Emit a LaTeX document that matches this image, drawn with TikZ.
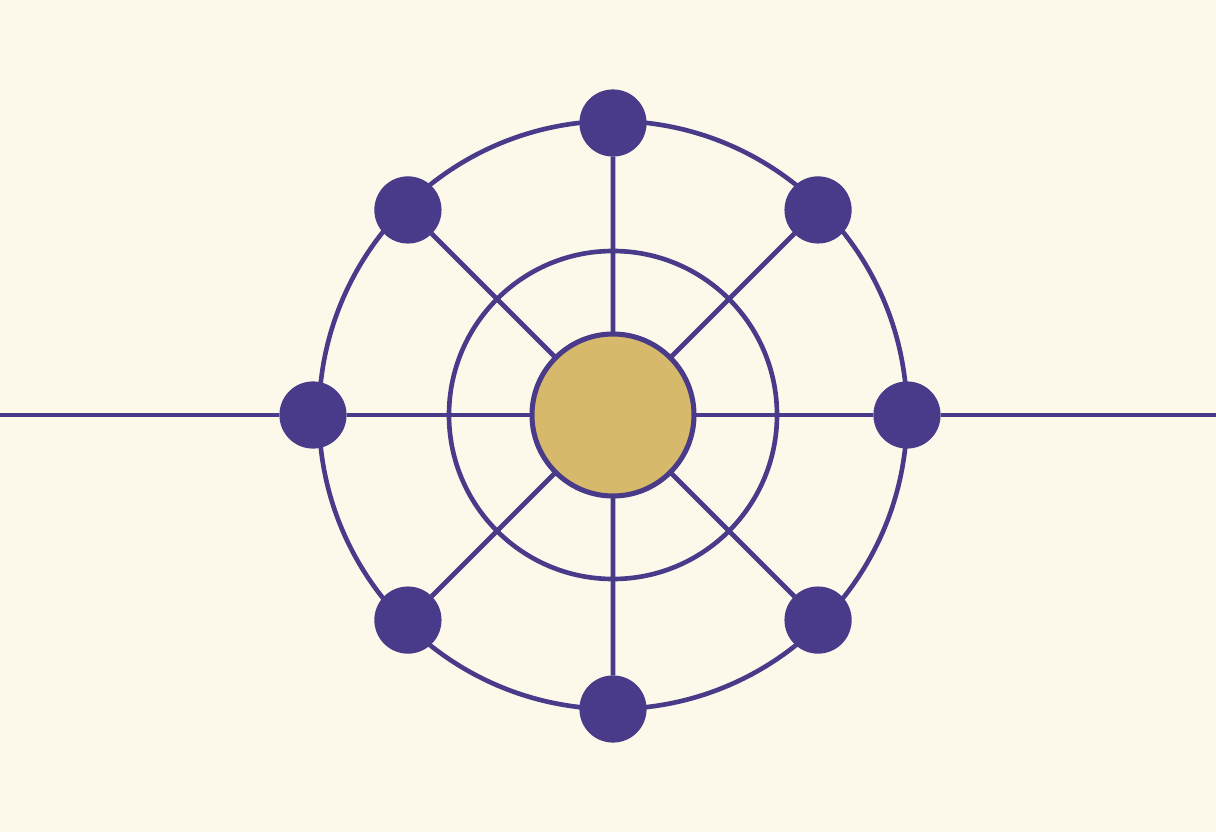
\documentclass[tikz,border=0pt]{standalone}
\usetikzlibrary{calc}
\definecolor{ink}{HTML}{4A3A8A}
\definecolor{gold}{HTML}{D6B96A}
\definecolor{paper}{HTML}{FDF9EA}
\tikzset{dot/.style={circle,fill=ink,inner sep=0pt,outer sep=0pt,minimum size=1.68cm},
  hubnode/.style={circle,draw=ink,fill=gold,line width=3.6pt,inner sep=0pt,outer sep=0pt,minimum size=4.05cm}}
\begin{document}
\begin{tikzpicture}[line width=3.3pt, draw=ink]
\fill[paper] (-15.325,-10.425) rectangle (15.075,10.375);
\useasboundingbox (-15.325,-10.425) rectangle (15.075,10.375);
\coordinate (west) at (-15.325,0);
\coordinate (east) at (15.075,0);
\draw[ink] (0,0) circle (7.35) (0,0) circle (4.1);
\node (hub) at (0,0) [hubnode] {};
\node (e) at (0:7.35) [dot] {};
\node (ne) at (45:7.25) [dot] {};
\node (n) at (90:7.3) [dot] {};
\node (nw) at (135:7.25) [dot] {};
\node (w) at (180:7.5) [dot] {};
\node (sw) at (225:7.25) [dot] {};
\node (s) at (270:7.35) [dot] {};
\node (se) at (315:7.25) [dot] {};
\draw[ink] (west)--(w) (w)--(hub) (hub)--(e) (e)--(east);
\draw[ink] (hub)--(n) (hub)--(s) (hub)--(ne) (hub)--(nw) (hub)--(se) (hub)--(sw);
\end{tikzpicture}
\end{document}
